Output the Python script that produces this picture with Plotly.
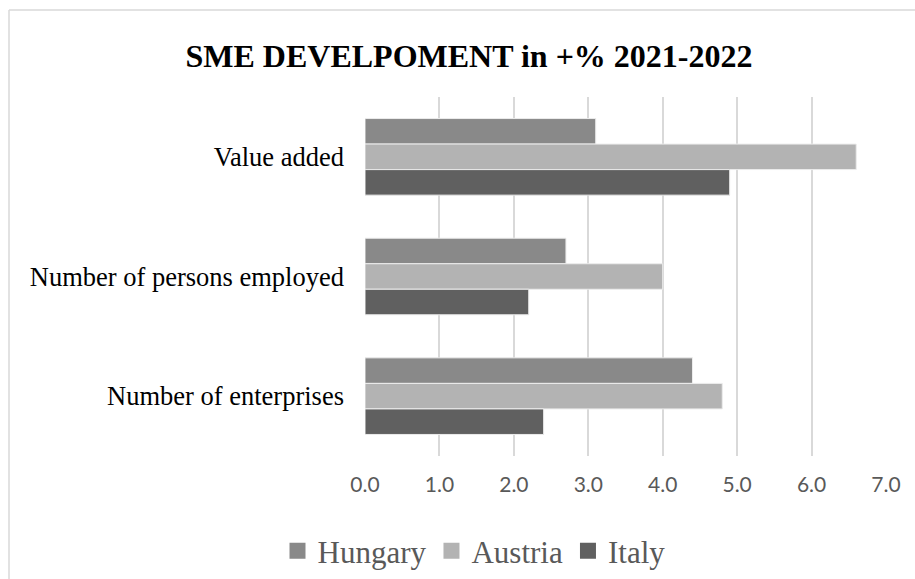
import plotly.graph_objects as go

categories = ["Value added", "Number of persons employed", "Number of enterprises"]
series_names = ["Hungary", "Austria", "Italy"]
hungary = [3.1, 2.7, 4.4]
austria = [6.6, 4.0, 4.8]
italy = [4.9, 2.2, 2.4]
colors = ["#898989", "#b3b3b3", "#606060"]
tick_vals = [0, 1, 2, 3, 4, 5, 6, 7]

W, H = 915, 579
L, R, T, B = 365, 29, 97, 123

fig = go.Figure()
for name, vals, col in zip(series_names, [hungary, austria, italy], colors):
    fig.add_trace(go.Bar(
        y=categories, x=vals, name=name, orientation="h", showlegend=False,
        legendgroup=name,
        marker=dict(color=col, line=dict(color="#ececec", width=1)),
    ))
# legend entries with larger square keys
for name, col in zip(series_names, colors):
    fig.add_trace(go.Scatter(
        x=[None], y=[None], mode="markers", name=name, legendgroup=name,
        marker=dict(symbol="square", size=16, color=col),
        hoverinfo="skip",
    ))

pw = W - L - R
ph = H - T - B
def px_to_paper_x(px):
    return (px - L) / pw
def px_to_paper_y(py):
    return (H - B - py) / ph

fig.update_layout(
    width=W, height=H,
    margin=dict(l=L, r=R, t=T, b=B),
    paper_bgcolor="white", plot_bgcolor="white",
    barmode="group", bargap=0.36, bargroupgap=0,
    title=dict(
        text="<b>SME DEVELPOMENT in +% 2021-2022</b>",
        x=469 / W, xanchor="center", y=1 - 56 / H, yanchor="middle",
        font=dict(family="Liberation Serif", size=32, color="#000000"),
    ),
    xaxis=dict(
        range=[0, 7], tickvals=tick_vals, tickformat=".1f",
        showgrid=True, gridcolor="#d9d9d9", gridwidth=1.5,
        zeroline=False, showline=False,
        ticklabelstandoff=14,
        tickfont=dict(family="Lato", size=21, color="#595959"),
    ),
    yaxis=dict(
        categoryorder="array", categoryarray=categories,
        autorange="reversed", showgrid=False, zeroline=False, showline=False,
        ticklabelstandoff=20,
        tickfont=dict(family="Liberation Serif", size=26.5, color="#000000"),
    ),
    legend=dict(
        orientation="h", xref="container", yref="container",
        x=474 / W, xanchor="center", y=1 - 551 / H, yanchor="middle",
        font=dict(family="Liberation Serif", size=31, color="#595959"),
        itemwidth=30, traceorder="normal",
    ),
    shapes=[
        dict(type="line", xref="paper", yref="paper",
             x0=px_to_paper_x(9), x1=px_to_paper_x(W + 50),
             y0=px_to_paper_y(10), y1=px_to_paper_y(10),
             line=dict(color="#d9d9d9", width=1.5)),
        dict(type="line", xref="paper", yref="paper",
             x0=px_to_paper_x(9), x1=px_to_paper_x(9),
             y0=px_to_paper_y(10), y1=px_to_paper_y(H + 50),
             line=dict(color="#d9d9d9", width=1.5)),
    ],
)

fig.write_html(
    "out.html",
    config={"displayModeBar": False},
    post_script="document.body.style.margin='0';document.body.style.overflow='hidden';",
)
